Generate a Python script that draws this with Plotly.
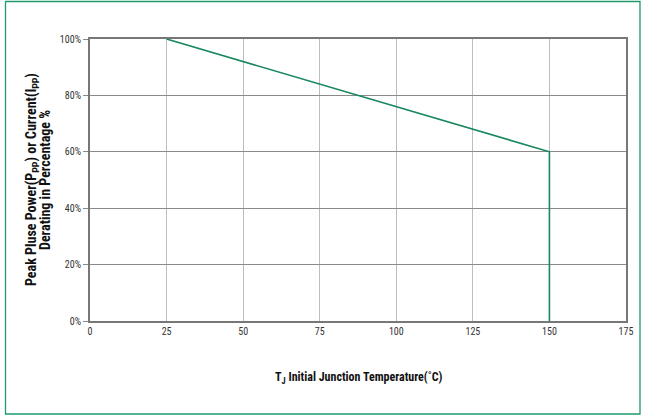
import plotly.graph_objects as go

temp_c = [25, 150, 150]
derating_pct = [100, 60, 0]
x_ticks = [0, 25, 50, 75, 100, 125, 150, 175]
y_ticks = [0, 20, 40, 60, 80, 100]
y_tick_labels = ["0%", "20%", "40%", "60%", "80%", "100%"]

W, H = 645, 419
L, R, T, B = 90, 19, 39, 98
pw, ph = W - L - R, H - T - B

font_family = "Liberation Sans Narrow, Arial Narrow, Roboto Condensed, sans-serif"

fig = go.Figure()
fig.add_trace(go.Scatter(x=temp_c, y=derating_pct, mode="lines",
                         line=dict(color="#17875c", width=1.6),
                         showlegend=False, hoverinfo="skip"))

def px_x(p):
    return (p - L) / pw

def px_y(p):
    return (H - B - p) / ph

fig.add_shape(type="rect", xref="paper", yref="paper",
              x0=px_x(5.5), x1=px_x(640), y0=px_y(414), y1=px_y(1.5),
              line=dict(color="#1f9a6c", width=1.3), fillcolor="rgba(0,0,0,0)",
              layer="below")

title_font = dict(family=font_family, size=14, color="#111")
fig.add_annotation(xref="paper", yref="paper", x=px_x(32), y=0.5,
                   text="<b>Peak Pluse Power(P<sub>PP</sub>) or Current(I<sub>PP</sub>)</b>",
                   textangle=-90, showarrow=False, font=title_font,
                   xanchor="center", yanchor="middle")
fig.add_annotation(xref="paper", yref="paper", x=px_x(45), y=0.5,
                   text="<b>Derating in Percentage %</b>",
                   textangle=-90, showarrow=False, font=title_font,
                   xanchor="center", yanchor="middle")
fig.add_annotation(xref="paper", yref="paper", x=0.5, y=px_y(378),
                   text="<b>T<sub>J</sub> Initial Junction Temperature(˚C)</b>",
                   showarrow=False, font=dict(family=font_family, size=12, color="#111"),
                   xanchor="center", yanchor="middle")

fig.update_layout(
    width=W, height=H,
    margin=dict(l=L, r=R, t=T, b=B),
    paper_bgcolor="white", plot_bgcolor="white",
    font=dict(family=font_family, size=10, color="#333"),
    xaxis=dict(range=[0, 175], tickvals=x_ticks, ticktext=[str(v) for v in x_ticks],
               showgrid=True, gridcolor="#bdbdbd", gridwidth=1,
               showline=True, linecolor="#777", linewidth=2, mirror=True,
               ticks="", zeroline=False,
               tickfont=dict(family=font_family, size=10, color="#333")),
    yaxis=dict(range=[0, 100], tickvals=y_ticks, ticktext=y_tick_labels,
               showgrid=True, gridcolor="#8a8a8a", gridwidth=1,
               showline=True, linecolor="#777", linewidth=2, mirror=True,
               ticks="outside", ticklen=5, tickcolor="#8a8a8a", zeroline=False,
               tickfont=dict(family=font_family, size=10, color="#333")),
)

fig.write_html("out.html", config={"displayModeBar": False},
               post_script="document.body.style.margin='0';document.body.style.overflow='hidden';")
